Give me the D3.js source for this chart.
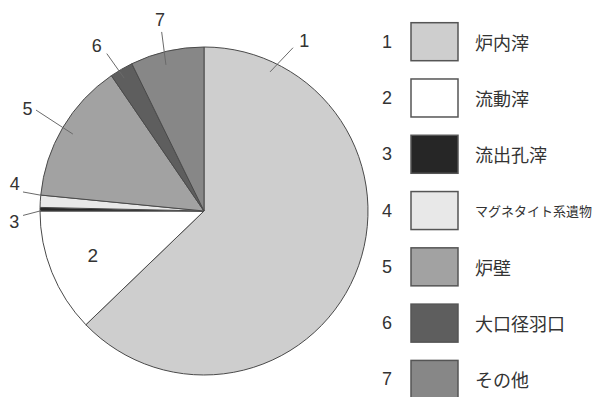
<!DOCTYPE html>
<html><head><meta charset="utf-8">
<script src="https://cdn.jsdelivr.net/npm/d3@7"></script>
<style>body{margin:0;background:#fff}svg{display:block}</style>
</head><body>
<script>
const ids = ["1","2","3","4","5","6","7"];
const names = ["炉内滓","流動滓","流出孔滓","マグネタイト系遺物","炉壁","大口径羽口","その他"];
const values = [62.8, 12.2, 0.35, 1.2, 13.9, 2.3, 7.25];
const colors = ["#cecece","#ffffff","#262626","#e8e8e8","#a2a2a2","#5e5e5e","#878787"];

const W=594,H=397, cx=204, cy=211, R=164;
const svg = d3.select("body").append("svg").attr("width",W).attr("height",H);
const g = svg.append("g").attr("transform",`translate(${cx},${cy})`);
const pie = d3.pie().sort(null).value(d=>d)(values);
const arc = d3.arc().innerRadius(0).outerRadius(R);
g.selectAll("path").data(pie).join("path")
  .attr("d",arc).attr("fill",(d,i)=>colors[i])
  .attr("stroke","#4a4a4a").attr("stroke-width",1);

const font = "'Liberation Sans', Arial, sans-serif";
const deg = Math.PI/180;
function pt(a, r){ return [Math.sin(a)*r, -Math.cos(a)*r]; }
// leader layout (angles in degrees clockwise from top)
const lab = [
  {i:0, a0:25.4, r0:154, a1:28.6, r1:186, al:30.6, rl:197},
  {i:3, a0:275.5, r0:163, a1:276, r1:182, al:278, rl:191},
  {i:2, a0:270.1, r0:163, a1:268.6, r1:181, al:266.8, rl:190},
  {i:4, a0:300.4, r0:152, a1:301, r1:196, al:300.1, rl:204},
  {i:5, a0:329, r0:155, a1:328.3, r1:185, al:327, rl:197},
  {i:6, a0:345.4, r0:151, a1:346.7, r1:184, al:347, rl:196},
];
lab.forEach(l=>{
  const p0 = pt(l.a0*deg, l.r0), p1 = pt(l.a1*deg, l.r1), p2 = pt(l.al*deg, l.rl);
  g.append("line").attr("x1",p0[0]).attr("y1",p0[1]).attr("x2",p1[0]).attr("y2",p1[1])
    .attr("stroke","#6a6a6a").attr("stroke-width",1);
  g.append("text").attr("x",p2[0]).attr("y",p2[1]).attr("text-anchor","middle")
    .attr("dominant-baseline","central").attr("font-family",font).attr("font-size",18)
    .attr("fill","#333").text(ids[l.i]);
});
// label 2 inside
{
  const p = pt(248*deg, 120);
  g.append("text").attr("x",p[0]).attr("y",p[1]).attr("text-anchor","middle")
    .attr("dominant-baseline","central").attr("font-family",font).attr("font-size",19)
    .attr("fill","#333").text(ids[1]);
}

// legend
const ly = d3.scaleBand().domain(ids).range([14,408]).paddingInner(0);
const leg = svg.append("g");
const rows = leg.selectAll("g").data(ids).join("g")
  .attr("transform",d=>`translate(0,${ly(d)})`);
const bh=38;
rows.append("text").attr("x",387).attr("y",bh/2+8.7).attr("text-anchor","middle")
  .attr("dominant-baseline","central").attr("font-family",font).attr("font-size",18)
  .attr("fill","#333").text(d=>d);
rows.append("rect").attr("x",411).attr("y",8.7).attr("width",47).attr("height",bh)
  .attr("fill",(d,i)=>colors[i]).attr("stroke","#555").attr("stroke-width",1.5);
rows.append("text").attr("x",475).attr("y",bh/2+8.7)
  .attr("dominant-baseline","central")
  .attr("font-family","'Noto Sans CJK JP', sans-serif")
  .attr("font-size",(d,i)=>names[i].length>5?13:18)
  .attr("fill","#333").text((d,i)=>names[i]);
</script>
</body></html>
